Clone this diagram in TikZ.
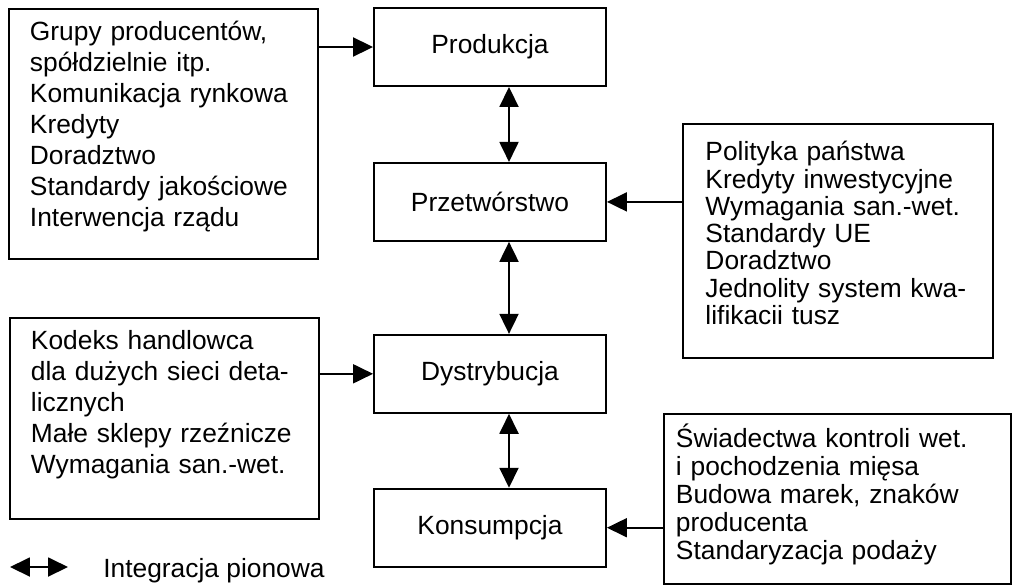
\documentclass[tikz,border=0pt]{standalone}
\usepackage{fontspec}
\setmainfont{Liberation Sans}
\usepackage{tikz}
\usetikzlibrary{positioning,arrows.meta}
\tikzset{
>={Triangle[length=0.4cm,width=0.38cm]},
  etap/.style={
    rectangle,
    draw=black, line width=1.1pt,
    minimum width=4.64cm,
    minimum height=1.56cm,
    inner sep=0pt,
    font=\fontsize{15}{18}\selectfont,
    text centered},
  opis/.style={
    rectangle,
    draw=black, line width=1.1pt,
    anchor=north west,
    align=left,
    inner ysep=0pt,
    inner xsep=0.42cm,
    text width=5.34cm,
    font=\fontsize{15}{17.6}\selectfont},
  polaczenie/.style={draw, line width=1.1pt, ->},
}

\begin{document}
\begin{tikzpicture}[x=0.02cm, y=-0.02cm]
		\useasboundingbox (0,0) rectangle (1016,585);
		\node[etap] (prod) at (490,47) {Produkcja};
		\node[etap, below=1.50cm of prod] (przetw) {Przetwórstwo};
		\node[etap, below=1.84cm of przetw] (dystr) {Dystrybucja};
		\node[etap, below=1.48cm of dystr] (kons) {Konsumpcja};
		\node[opis, text height=0.64cm, text depth=4.36cm] (grupy) at (8,8)
			{Grupy producentów,\\ spółdzielnie itp.\\ Komunikacja rynkowa\\ Kredyty\\ Doradztwo\\ Standardy jakościowe\\ Interwencja rządu};
		\node[opis, text height=0.64cm, text depth=3.38cm] (kodeks) at (9,317)
			{Kodeks handlowca\\ dla dużych sieci deta-\\ licznych\\ Małe sklepy rzeźnicze\\ Wymagania san.-wet.};
		\node[opis, inner xsep=0.45cm, text width=5.3cm, text height=0.74cm, text depth=3.94cm,
			font=\fontsize{15}{15.5}\selectfont] (polityka) at (682,123)
			{Polityka państwa\\ Kredyty inwestycyjne\\ Wymagania san.-wet.\\ Standardy UE\\ Doradztwo\\ Jednolity system kwa-\\ lifikacii tusz};
		\node[opis, inner xsep=0.24cm, text width=6.46cm, text height=0.68cm, text depth=2.72cm,
			font=\fontsize{15}{15.9}\selectfont] (swiadectwa) at (663,413)
			{Świadectwa kontroli wet.\\ i pochodzenia mięsa\\ Budowa marek, znaków\\ producenta\\ Standaryzacja podaży};
		\draw[polaczenie] (grupy.east |- prod.west) -- (prod.west);
		\draw[polaczenie] (kodeks.east |- dystr.west) -- (dystr.west);
		\draw[polaczenie] (polityka.west |- przetw.east) -- (przetw.east);
		\draw[polaczenie] (swiadectwa.west |- kons.east) -- (kons.east);
		\draw[polaczenie, <->] ([xshift=0.38cm]prod.south) -- ([xshift=0.38cm]przetw.north);
		\draw[polaczenie, <->] ([xshift=0.38cm]przetw.south) -- ([xshift=0.38cm]dystr.north);
		\draw[polaczenie, <->] ([xshift=0.38cm]dystr.south) -- ([xshift=0.38cm]kons.north);
		\coordinate (legL) at (10,567);
		\coordinate (legR) at (68,567);
		\draw[polaczenie, <->] (legL) -- (legR);
		\node[anchor=base west, inner sep=0pt, font=\fontsize{15}{18}\selectfont] (legenda) at (103,577) {Integracja pionowa};
	\end{tikzpicture}
\end{document}
